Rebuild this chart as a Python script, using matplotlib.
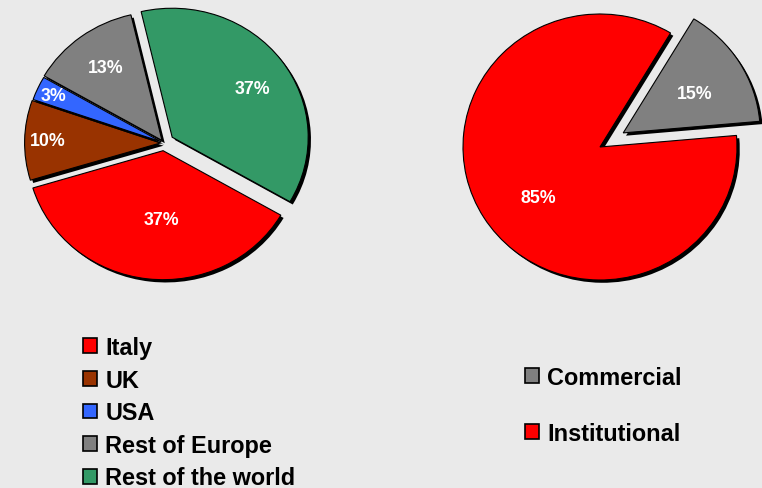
import matplotlib
matplotlib.use('Agg')
import matplotlib.pyplot as plt
import matplotlib.patheffects as pe
import numpy as np

plt.rcParams['font.family'] = ['Liberation Sans', 'DejaVu Sans']

# ---- data ----
regions = ['Italy', 'UK', 'USA', 'Rest of Europe', 'Rest of the world']
region_share = [37, 10, 3, 13, 37]
region_colors = ['#FF0000', '#993300', '#3366FF', '#808080', '#339966']

sectors = ['Commercial', 'Institutional']
sector_share = [15, 85]
sector_colors = ['#808080', '#FF0000']

W, H = 762, 489
BG = '#EAEAEA'
fig = plt.figure(figsize=(W / 100, H / 100), dpi=100, facecolor=BG)

L = 1.3


def pie_axes(cx, cy, rx, ry):
    ax = fig.add_axes([(cx - rx * L) / W, (H - cy - ry * L) / H,
                       2 * rx * L / W, 2 * ry * L / H])
    return ax


shadow = [pe.SimplePatchShadow(offset=(2, -2), shadow_rgbFace='black', alpha=1.0),
          pe.Normal()]


def draw(ax, vals, colors, start, explode, dists, dang):
    wedges, _, autot = ax.pie(
        vals, colors=colors, startangle=start, counterclock=False,
        explode=explode, autopct='%.0f%%',
        wedgeprops=dict(edgecolor='black', linewidth=0.8, path_effects=shadow),
        textprops=dict(color='white', fontsize=12.8, fontweight='bold'))
    ax.set_aspect('auto')
    ax.set_xlim(-L, L)
    ax.set_ylim(-L, L)
    ax.set_axis_off()
    for w, t, d, da in zip(wedges, autot, dists, dang):
        th = np.deg2rad((w.theta1 + w.theta2) / 2 + da)
        cx, cy = w.center
        t.set_position((cx + d * np.cos(th), cy + d * np.sin(th)))
    return wedges


ax1 = pie_axes(164, 144, 136, 129)
w1 = draw(ax1, region_share, region_colors, 330,
          [0.06, 0.025, 0.02, 0.025, 0.075], [0.53, 0.83, 0.87, 0.70, 0.70],
          [5.5, 0, 0, 0, -4])

ax2 = pie_axes(600, 148, 137, 133)
w2 = draw(ax2, sector_share, sector_colors, 59,
          [0.2, 0.0], [0.6, 0.59], [-2, 8])

legprop = dict(weight='bold', size=16.9)
legs = []
legs.append(fig.legend(w1, regions, loc='upper left', bbox_to_anchor=(83 / W, 1 - 337 / H),
                       frameon=False, prop=legprop, handlelength=0.6, handleheight=0.6,
                       handletextpad=0.35, labelspacing=0.41, borderpad=0, borderaxespad=0))
legs.append(fig.legend(w2, sectors, loc='upper left', bbox_to_anchor=(525 / W, 1 - 367 / H),
                       frameon=False, prop=legprop, handlelength=0.6, handleheight=0.6,
                       handletextpad=0.35, labelspacing=1.4, borderpad=0, borderaxespad=0))
for lg in legs:
    for hd in lg.legend_handles:
        hd.set_path_effects([])
        hd.set_linewidth(1.2)

fig.savefig('out.png', dpi=100, facecolor=BG)
